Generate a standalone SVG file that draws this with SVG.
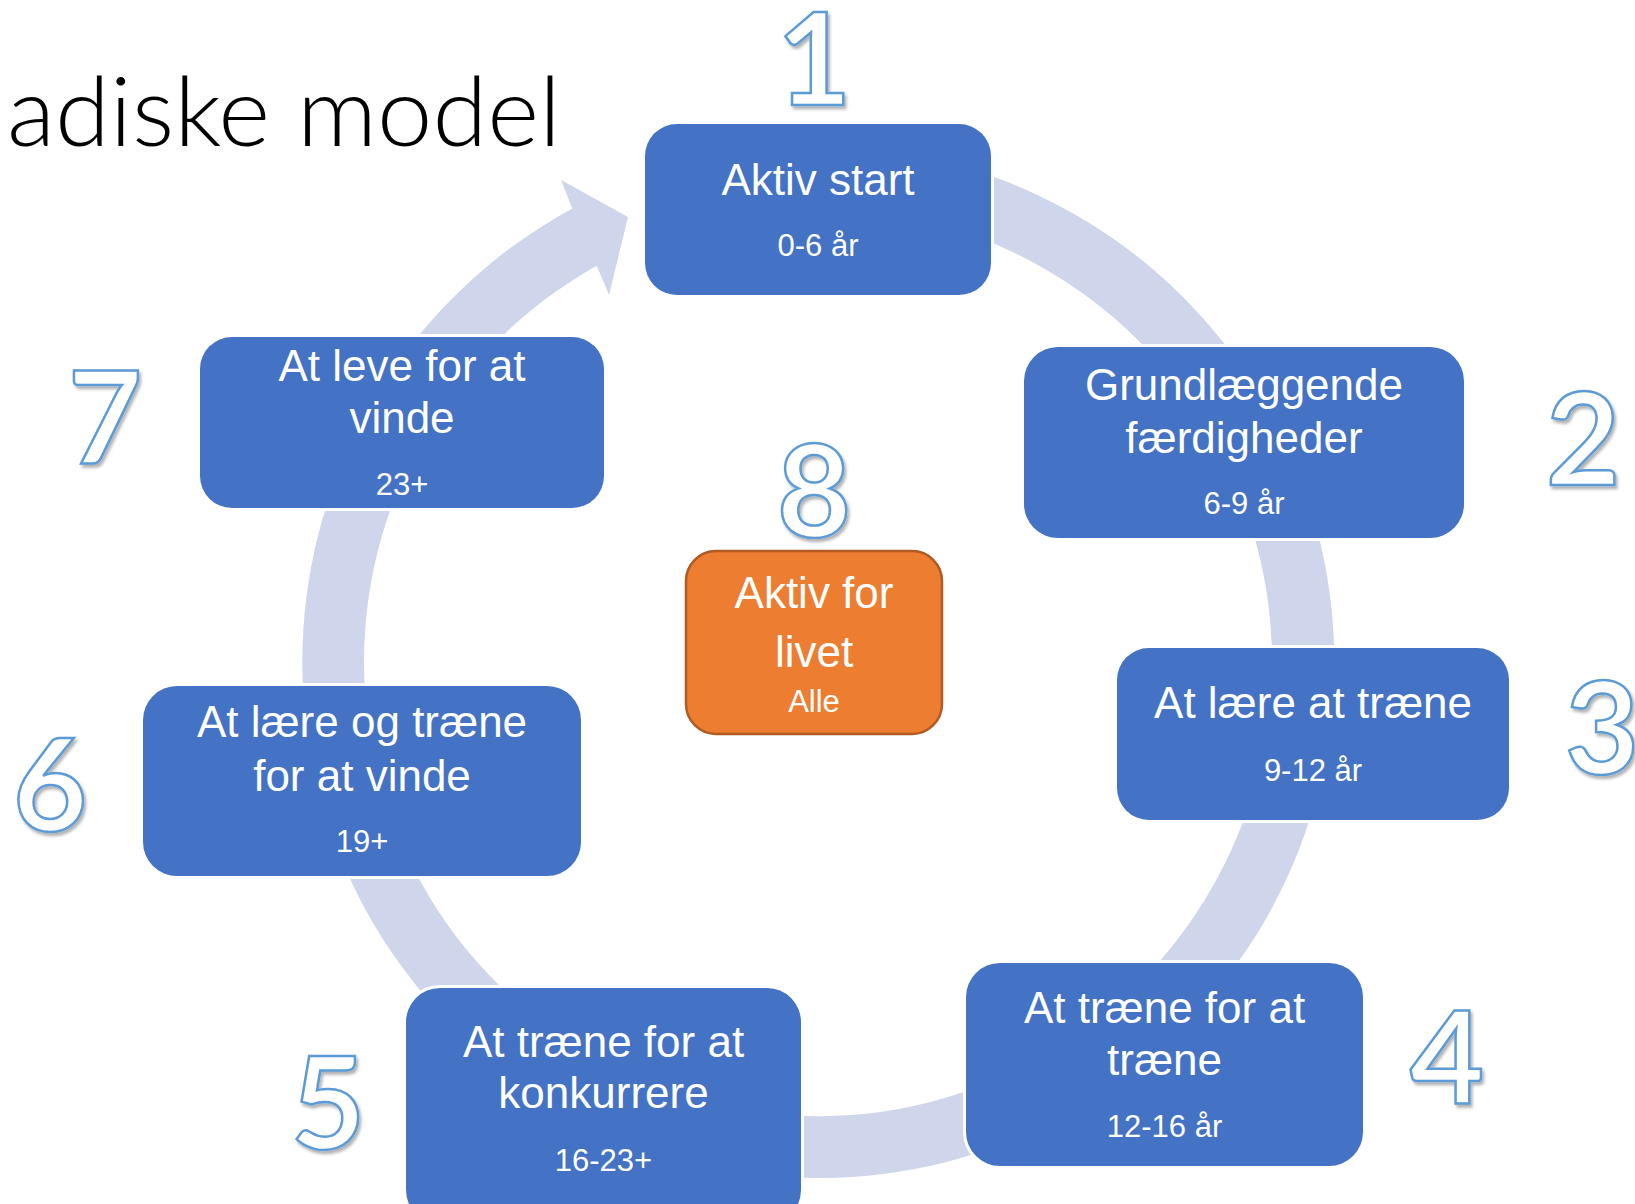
<svg xmlns="http://www.w3.org/2000/svg" width="1635" height="1204" viewBox="0 0 1635 1204">
  <defs>
    <filter id="shadow" x="-20%" y="-20%" width="140%" height="140%">
      <feDropShadow dx="2" dy="3" stdDeviation="1.6" flood-color="#000" flood-opacity="0.3"/>
    </filter>
  </defs>
  <style>
    .box { fill: #4472C4; stroke: #FFFFFF; stroke-width: 6; paint-order: stroke; }
    .obox { fill: #ED7D31; stroke: #B15A22; stroke-width: 2.5; }
    .t { font-family: "Liberation Sans", Arial, sans-serif; fill: #FFFFFF; text-anchor: middle; }
    .m { font-size: 44px; }
    .s { font-size: 31px; }
    .num { font-family: Lato, "DejaVu Sans", sans-serif; font-weight: bold; font-size: 128px; fill: #FFFFFF; stroke: #5B9BD5; stroke-width: 2.5; text-anchor: middle; filter: url(#shadow); }
    .ring { fill: #CFD5EA; }
  </style>
  <rect width="1635" height="1204" fill="#FFFFFF"/>

  <text x="7" y="146" font-family="Lato, 'Liberation Sans', sans-serif" font-weight="300" font-size="97" textLength="554" lengthAdjust="spacingAndGlyphs" fill="#000000">adiske model</text>

  <g id="connectors">
    <path class="ring" d="M 685.0 163.6 A 516 516 0 1 1 572.3 208.5 L 561 180 L 628 217 L 609 295 L 596.8 265.7 A 454 454 0 1 0 701.0 223.5 Z"/>
  </g>

  <g id="node1">
    <rect class="box" x="645" y="124" width="346" height="171" rx="32"/>
    <text class="t m" x="818" y="195">Aktiv start</text>
    <text class="t s" x="818" y="256">0-6 år</text>
    <text class="num" x="814" y="105">1</text>
  </g>

  <g id="node2">
    <rect class="box" x="1024" y="347" width="440" height="191" rx="34"/>
    <text class="t m" x="1244" y="400">Grundlæggende</text>
    <text class="t m" x="1244" y="453">færdigheder</text>
    <text class="t s" x="1244" y="514">6-9 år</text>
    <text class="num" x="1583" y="485">2</text>
  </g>

  <g id="node3">
    <rect class="box" x="1117" y="648" width="392" height="172" rx="32"/>
    <text class="t m" x="1313" y="718">At lære at træne</text>
    <text class="t s" x="1313" y="781">9-12 år</text>
    <text class="num" x="1602" y="774">3</text>
  </g>

  <g id="node4">
    <rect class="box" x="966" y="963" width="397" height="203" rx="34"/>
    <text class="t m" x="1164.5" y="1023">At træne for at</text>
    <text class="t m" x="1164.5" y="1075">træne</text>
    <text class="t s" x="1164.5" y="1137">12-16 år</text>
    <text class="num" x="1447" y="1104">4</text>
  </g>

  <g id="node5">
    <rect class="box" x="406" y="988" width="395" height="236" rx="34"/>
    <text class="t m" x="603.5" y="1057">At træne for at</text>
    <text class="t m" x="603.5" y="1108">konkurrere</text>
    <text class="t s" x="603.5" y="1171">16-23+</text>
    <text class="num" x="328" y="1149">5</text>
  </g>

  <g id="node6">
    <rect class="box" x="143" y="686" width="438" height="190" rx="34"/>
    <text class="t m" x="362" y="737">At lære og træne</text>
    <text class="t m" x="362" y="791">for at vinde</text>
    <text class="t s" x="362" y="852">19+</text>
    <text class="num" x="50" y="831">6</text>
  </g>

  <g id="node7">
    <rect class="box" x="200" y="337" width="404" height="171" rx="32"/>
    <text class="t m" x="402" y="381">At leve for at</text>
    <text class="t m" x="402" y="433">vinde</text>
    <text class="t s" x="402" y="495">23+</text>
    <text class="num" x="105" y="464">7</text>
  </g>

  <g id="node8">
    <rect class="obox" x="686" y="551" width="256" height="183" rx="30"/>
    <text class="t m" x="814" y="608">Aktiv for</text>
    <text class="t m" x="814" y="667">livet</text>
    <text class="t s" x="814" y="712">Alle</text>
    <text class="num" x="814" y="537">8</text>
  </g>
</svg>
